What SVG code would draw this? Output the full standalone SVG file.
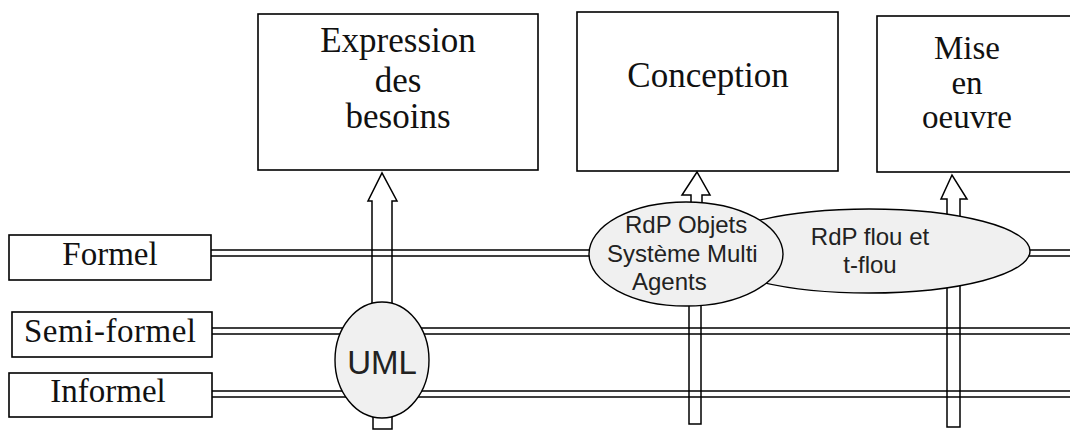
<svg xmlns="http://www.w3.org/2000/svg" width="1070" height="431" viewBox="0 0 1070 431">
<style>
.box{fill:#fff;stroke:#000;stroke-width:1.6}
.ell{fill:#f0f0f0;stroke:#000;stroke-width:1.4}
.ln{stroke:#000;stroke-width:1.5;fill:none}
.ar{stroke:#000;stroke-width:1.5;fill:none;stroke-linejoin:miter}
.serif{font-family:"Liberation Serif","Times New Roman",serif;fill:#111;text-anchor:middle}
.sans{font-family:"Liberation Sans",Arial,sans-serif;fill:#222;text-anchor:middle}
</style>
<rect width="1070" height="431" fill="#fff"/>
<g id="phases">
<g id="expression">
<rect class="box" x="258" y="14" width="280" height="156"/>
<text class="serif" font-size="35"><tspan x="398" y="52">Expression</tspan><tspan x="398" y="92">des</tspan><tspan x="398" y="128">besoins</tspan></text>
</g>
<g id="conception">
<rect class="box" x="577" y="12" width="261" height="159"/>
<text class="serif" font-size="35" x="708" y="87">Conception</text>
</g>
<g id="mise">
<rect class="box" x="877" y="16" width="200" height="156"/>
<text class="serif" font-size="33"><tspan x="967" y="59">Mise</tspan><tspan x="967" y="94">en</tspan><tspan x="967" y="128">oeuvre</tspan></text>
</g>
</g>
<g id="levels">
<g id="formel">
<rect class="box" x="9" y="235" width="202" height="45"/>
<text class="serif" font-size="33" x="110" y="265">Formel</text>
</g>
<g id="semi-formel">
<rect class="box" x="12" y="312" width="200" height="45"/>
<text class="serif" font-size="33" x="110" y="342" textLength="172">Semi-formel</text>
</g>
<g id="informel">
<rect class="box" x="9" y="373" width="203" height="44"/>
<text class="serif" font-size="33" x="108" y="402">Informel</text>
</g>
</g>
<g id="connectors">
<path class="ln" d="M211 250H1070M211 256H1070M212 328H1070M212 334H1070M212 391H1070M212 397H1070"/>
<path class="ar" d="M372 310V201H368L382 173L397 201H392V310"/>
<path class="ar" d="M373 410V429H392V410"/>
<path class="ar" d="M691 215V195H682L697 172L710 195H702V215"/>
<path class="ar" d="M689 295V424H701V295"/>
<path class="ar" d="M947 225V199H941L952 175L967 199H960V225"/>
<path class="ar" d="M947 280V427H960V280"/>
</g>
<g id="methods">
<g id="uml">
<ellipse class="ell" cx="382" cy="360" rx="47" ry="58"/>
<text class="sans" font-size="33" x="382" y="374">UML</text>
</g>
<g id="rdp-flou">
<ellipse class="ell" cx="869" cy="251" rx="161" ry="42"/>
<text class="sans" font-size="24"><tspan x="870" y="245">RdP flou et</tspan><tspan x="870" y="273">t-flou</tspan></text>
</g>
<g id="rdp-objets">
<ellipse class="ell" cx="686" cy="254" rx="97" ry="52"/>
<text class="sans" font-size="24" style="text-anchor:start"><tspan x="625" y="233">RdP Objets</tspan><tspan x="607" y="262">Système Multi</tspan><tspan x="632" y="290">Agents</tspan></text>
</g>
</g>
</svg>
